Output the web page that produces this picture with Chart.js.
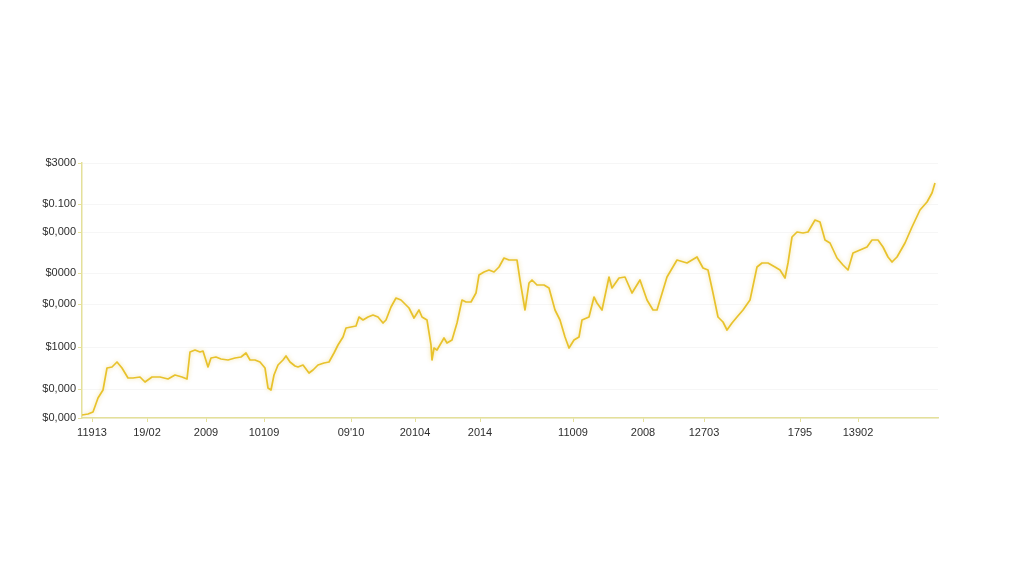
<!DOCTYPE html>
<html>
<head>
<meta charset="utf-8">
<script src="https://cdn.jsdelivr.net/npm/chart.js@4.4.1/dist/chart.umd.min.js"></script>
<style>
  html, body { margin: 0; padding: 0; background: #fff; }
  #chart { display: block; }
</style>
</head>
<body>
<canvas id="chart" width="1024" height="585"></canvas>
<script>
(function () {

    "use strict";

    // posiciones en el eje x (unidades del eje, no pixeles)
    var xValues = [
        0, 6, 11, 16, 21, 25, 30, 35, 40, 46,
        51, 58, 63, 70, 78, 86, 93, 100, 105, 108,
        113, 118, 121, 126, 129, 134, 139, 146, 153, 159,
        164, 168, 173, 178, 183, 186, 189, 192, 196, 201,
        204, 208, 213, 216, 221, 227, 231, 236, 242, 247,
        252, 256, 261, 264, 269, 274, 277, 281, 286, 291,
        296, 301, 304, 309, 314, 319, 324, 327, 332, 337,
        340, 345, 349, 350, 352, 355, 362, 365, 370, 375,
        380, 384, 389, 394, 397, 402, 407, 412, 417, 422,
        427, 435, 438, 443, 447, 450, 455, 462, 467, 473,
        478, 483, 487, 492, 497, 500, 507, 512, 515, 520,
        527, 530, 537, 543, 550, 558, 565, 571, 575, 585,
        595, 605, 615, 621, 626, 631, 636, 641, 645, 650,
        655, 661, 668, 675, 680, 686, 693, 698, 703, 706,
        710, 715, 721, 726, 733, 738, 743, 748, 755, 761,
        766, 771, 778, 785, 790, 796, 801, 806, 810, 815,
        823, 830, 838, 845, 850, 853
    ];

    // valores de la serie
    var prices = [
        30, 40, 60, 200, 280, 500, 510, 560, 500, 400,
        400, 410, 360, 410, 410, 390, 430, 410, 390, 660,
        680, 660, 670, 510, 600, 610, 590, 580, 600, 610,
        650, 580, 580, 560, 500, 300, 280, 430, 530, 580,
        620, 560, 520, 510, 530, 450, 480, 530, 550, 560,
        650, 730, 810, 900, 910, 920, 1010, 980, 1010, 1030,
        1010, 950, 980, 1110, 1200, 1180, 1130, 1100, 1000, 1080,
        1010, 980, 730, 580, 700, 680, 800, 750, 780, 950,
        1180, 1160, 1160, 1250, 1430, 1460, 1480, 1460, 1510, 1600,
        1580, 1580, 1380, 1080, 1350, 1380, 1330, 1330, 1300, 1080,
        980, 810, 700, 780, 810, 980, 1010, 1210, 1150, 1080,
        1410, 1300, 1400, 1410, 1250, 1380, 1180, 1080, 1080, 1410,
        1580, 1550, 1610, 1500, 1480, 1250, 1010, 960, 880, 950,
        1010, 1080, 1180, 1510, 1550, 1550, 1510, 1480, 1400, 1550,
        1810, 1860, 1850, 1860, 1980, 1960, 1780, 1750, 1600, 1530,
        1480, 1650, 1680, 1710, 1780, 1780, 1710, 1610, 1560, 1610,
        1750, 1910, 2080, 2160, 2250, 2350
    ];

    // marcas del eje x
    var xTickValues = [10, 65, 124, 182, 269, 333, 398, 491, 561, 622, 718, 776];
    var xTickLabels = ['11913', '19/02', '2009', '10109', "09'10", '20104', '2014', '11009', '2008', '12703', '1795', '13902'];

    // marcas del eje y
    var yTickValues = [0, 290, 710, 1140, 1450, 1860, 2140, 2550];
    var yTickLabels = ['$0,000', '$0,000', '$1000', '$0,000', '$0000', '$0,000', '$0.100', '$3000'];

    var axisColor = '#e4e09a';
    var lineColor = '#e8c22c';

    var points = xValues.map(function (x, i) {
        return { x: x, y: prices[i] };
    });

    /**
     * Sombra suave debajo de la linea
     */
    var glowPlugin = {
        id: 'glow',
        beforeDatasetsDraw: function (chart) {
            chart.ctx.save();
            chart.ctx.shadowColor = 'rgba(225, 185, 30, 0.45)';
            chart.ctx.shadowBlur = 4;
        },
        afterDatasetsDraw: function (chart) {
            chart.ctx.restore();
        }
    };

    new Chart(document.getElementById('chart').getContext('2d'), {
        type: 'line',
        data: {
            datasets: [{
                data: points,
                borderColor: lineColor,
                borderWidth: 1.7,
                borderJoinStyle: 'round',
                pointRadius: 0,
                tension: 0,
                fill: false
            }]
        },
        options: {
            responsive: false,
            animation: false,
            layout: {
                padding: { left: 0, right: 86, top: 163, bottom: 0 }
            },
            plugins: {
                legend: { display: false },
                tooltip: { enabled: false }
            },
            scales: {
                x: {
                    type: 'linear',
                    min: 0,
                    max: 856,
                    afterFit: function (scale) { scale.height = 167; },
                    afterBuildTicks: function (scale) {
                        scale.ticks = xTickValues.map(function (v) { return { value: v }; });
                    },
                    ticks: {
                        autoSkip: false,
                        maxRotation: 0,
                        padding: 4,
                        color: '#2e2e2e',
                        font: { family: 'Liberation Sans, Arial, sans-serif', size: 11 },
                        callback: function (value) {
                            var i = xTickValues.indexOf(value);
                            return i >= 0 ? xTickLabels[i] : '';
                        }
                    },
                    grid: {
                        drawOnChartArea: false,
                        tickLength: 4,
                        tickColor: axisColor
                    },
                    border: { color: axisColor, width: 1.5 }
                },
                y: {
                    min: 0,
                    max: 2550,
                    afterFit: function (scale) { scale.width = 82; },
                    afterBuildTicks: function (scale) {
                        scale.ticks = yTickValues.map(function (v) { return { value: v }; });
                    },
                    ticks: {
                        padding: 2,
                        color: '#2e2e2e',
                        font: { family: 'Liberation Sans, Arial, sans-serif', size: 11 },
                        callback: function (value) {
                            var i = yTickValues.indexOf(value);
                            return i >= 0 ? yTickLabels[i] : '';
                        }
                    },
                    grid: {
                        color: 'rgba(0, 0, 0, 0.035)',
                        tickLength: 4,
                        tickColor: axisColor
                    },
                    border: { color: axisColor, width: 1.5 }
                }
            }
        },
        plugins: [glowPlugin]
    });

})();
</script>
</body>
</html>
